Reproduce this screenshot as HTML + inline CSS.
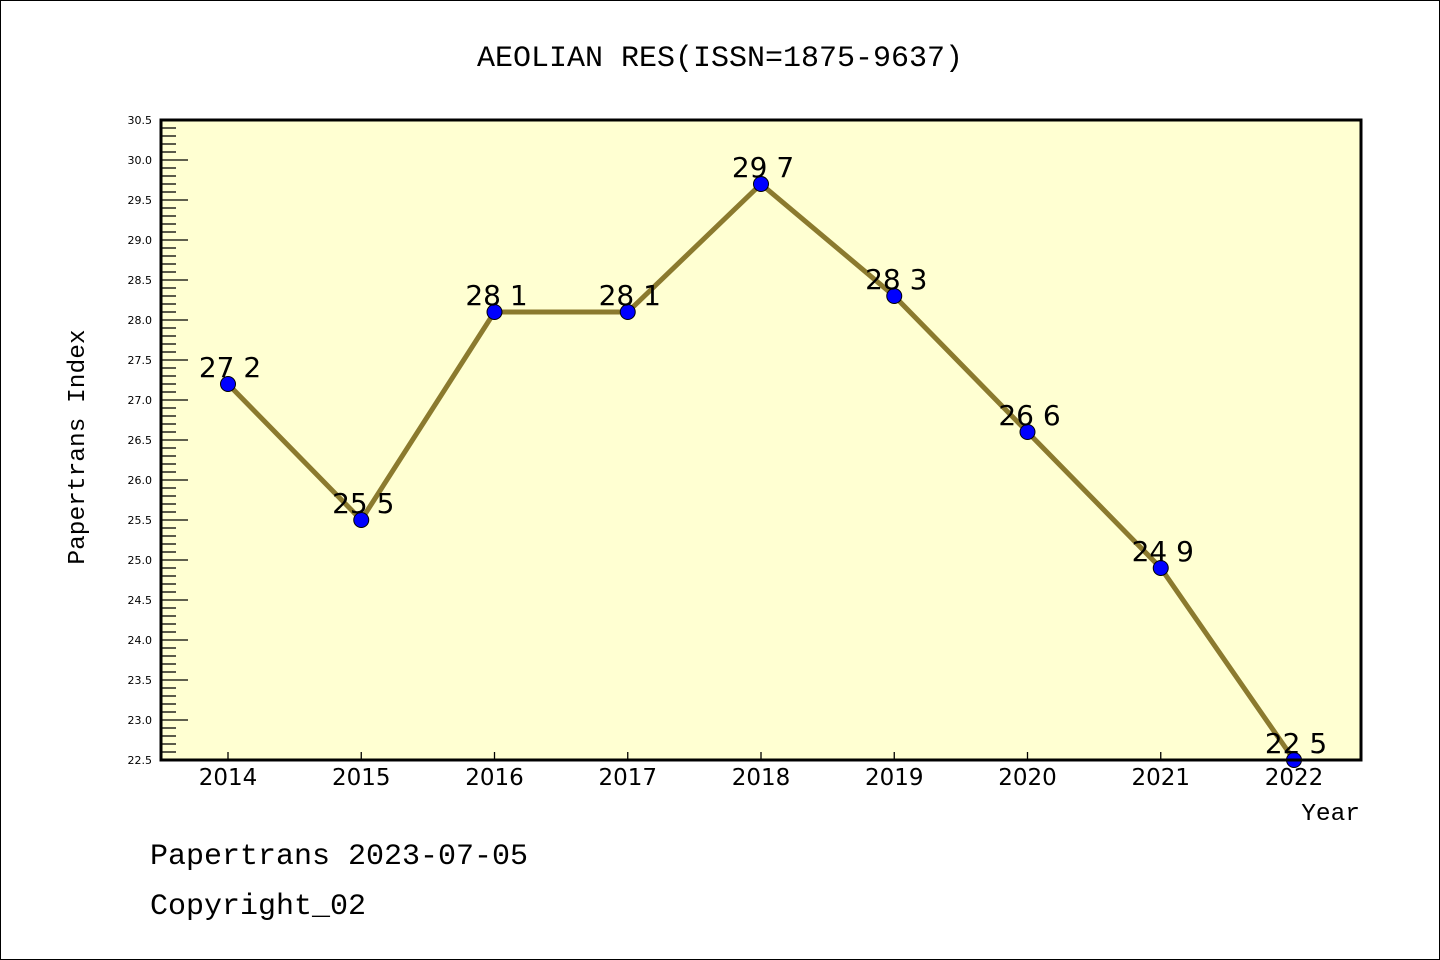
<!DOCTYPE html>
<html><head><meta charset="utf-8"><style>
body{margin:0;background:#fff;}
svg{display:block;font-family:"Liberation Mono","DejaVu Sans Mono",monospace;}
</style></head><body>
<svg id="chart" width="1440" height="960" xmlns="http://www.w3.org/2000/svg">
<rect x="0.5" y="0.5" width="1439" height="959" fill="#fff" stroke="#000"/>
<text x="720" y="66" text-anchor="middle" font-size="30">AEOLIAN RES(ISSN=1875-9637)</text>
<rect x="161" y="120" width="1200" height="640" fill="#ffffd2"/>
<g id="yaxis"></g>
<g id="xaxis"></g>
<g id="series"></g>
<rect x="161" y="120" width="1200" height="640" fill="none" stroke="#000" stroke-width="3"/>
<text transform="translate(84,447) rotate(-90)" text-anchor="middle" font-size="24.5">Papertrans Index</text>
<text x="1360" y="820" text-anchor="end" font-size="24.5">Year</text>
<text x="150" y="864" font-size="30">Papertrans 2023-07-05</text>
<text x="150" y="914" font-size="30">Copyright_02</text>
</svg>
<script>
const years=[2014,2015,2016,2017,2018,2019,2020,2021,2022];
const values=[27.2,25.5,28.1,28.1,29.7,28.3,26.6,24.9,22.5];
const yTicks=[22.5,23.0,23.5,24.0,24.5,25.0,25.5,26.0,26.5,27.0,27.5,28.0,28.5,29.0,29.5,30.0,30.5];
const NS="http://www.w3.org/2000/svg";
const yMin=22.5,yMax=30.5,plotTop=120,plotBot=760;
function yS(v){return plotBot-(v-yMin)/(yMax-yMin)*(plotBot-plotTop);}
function xS(i){return 228+i*(1294-228)/(years.length-1);}
function mk(tag,attrs,parent){const e=document.createElementNS(NS,tag);for(const k in attrs)e.setAttribute(k,attrs[k]);parent.appendChild(e);return e;}
const ya=document.getElementById('yaxis'),xa=document.getElementById('xaxis'),sg=document.getElementById('series');
for(let k=0;k<=80;k++){const v=yMin+k*0.1;const y=yS(v);const major=k%5===0;
 const t=mk('line',{x1:161,x2:major?188:176,y1:y,y2:y,stroke:'#000','stroke-width':1.3},ya);
 
 }
yTicks.forEach(v=>{const t=mk('text',{x:152,y:yS(v)+4,'text-anchor':'end','font-size':11,'font-family':'DejaVu Sans, sans-serif'},ya);t.textContent=v.toFixed(1);
 
 });
years.forEach((yr,i)=>{const x=xS(i);
 const l=mk('line',{x1:x,x2:x,y1:760,y2:752,stroke:'#000','stroke-width':1.3},xa);
 
 
 const t=mk('text',{x:x,y:785,'text-anchor':'middle','font-size':23,'font-family':'DejaVu Sans, sans-serif'},xa);t.textContent=yr;
 
 });
const pl=mk('polyline',{points:values.map((v,i)=>xS(i)+','+yS(v)).join(' '),fill:'none',stroke:'#8b7a2e','stroke-width':5},sg);


values.forEach((v,i)=>{const c=mk('circle',{cx:xS(i),cy:yS(v),r:7.5,fill:'#0000ff',stroke:'#000','stroke-width':1},sg);
 
 
 const t=mk('text',{x:xS(i)+2,y:yS(v)-7,'text-anchor':'middle','font-size':28,'font-family':'DejaVu Sans, sans-serif'},sg);t.textContent=v.toFixed(1).replace('.',' ');
 
 });
</script>
</body></html>
